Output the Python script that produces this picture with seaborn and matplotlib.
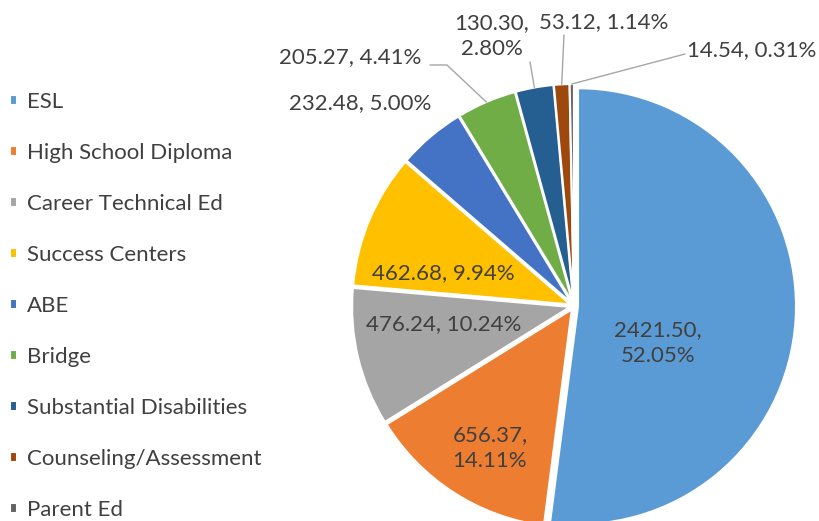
import numpy as np
import matplotlib
matplotlib.use("Agg")
import matplotlib.pyplot as plt
import seaborn as sns

# data
programs = ["ESL", "High School Diploma", "Career Technical Ed", "Success Centers", "ABE",
            "Bridge", "Substantial Disabilities", "Counseling/Assessment", "Parent Ed"]
hours = [2421.50, 656.37, 476.24, 462.68, 232.48, 205.27, 130.30, 53.12, 14.54]
colors = ["#5B9BD5", "#ED7D31", "#A5A5A5", "#FFC000", "#4472C4",
          "#70AD47", "#255E91", "#9E480E", "#636363"]

sns.set_theme(style="white")
plt.rcParams["font.family"] = ["Lato", "DejaVu Sans"]

W, H = 820, 521
fig = plt.figure(figsize=(W / 100, H / 100), dpi=100)
ax = fig.add_axes([0, 0, 1, 1])

cx, cy, r, ex = 574, H - 306, 218, 4
wedges, _ = ax.pie(hours, colors=sns.color_palette(colors), startangle=90, counterclock=False,
                   center=(cx, cy), radius=r, explode=[ex] * len(hours),
                   wedgeprops=dict(edgecolor="white", linewidth=1.5))
ax.set_xlim(0, W)
ax.set_ylim(0, H)
ax.set_aspect("equal")
ax.axis("off")

total = sum(hours)
pct = [v / total * 100 for v in hours]
txt_color = "#404040"

# label placement (pixel coords from top-left), leader line?, two lines?
label_pos = {
    "ESL": (658, 343, False, True),
    "High School Diploma": (490, 448, False, True),
    "Career Technical Ed": (444, 324, False, False),
    "Success Centers": (443, 273, False, False),
    "ABE": (360, 103, False, False),
    "Bridge": (350, 57, True, False),
    "Substantial Disabilities": (492, 36, True, True),
    "Counseling/Assessment": (604, 22, True, False),
    "Parent Ed": (752, 50, True, False),
}
leader_start = {
    "Bridge": [(430, 65), (447, 65)],
    "Substantial Disabilities": [(530, 62)],
    "Counseling/Assessment": [(564, 35)],
    "Parent Ed": [(685, 54)],
}

for w, name, v, p in zip(wedges, programs, hours, pct):
    x, y, lead, wrap = label_pos[name]
    sep = ",\n" if wrap else ", "
    ax.text(x, H - y, f"{v:.2f}{sep}{p:.2f}%", ha="center", va="center",
            fontsize=16, color=txt_color, linespacing=1.35)
    if lead:
        mid = np.deg2rad((w.theta1 + w.theta2) / 2)
        ax_pt = (cx + (r + ex) * np.cos(mid), cy + (r + ex) * np.sin(mid))
        pts = [(px, H - py) for px, py in leader_start[name]] + [ax_pt]
        xs, ys = zip(*pts)
        ax.plot(xs, ys, color="#A6A6A6", lw=1)

leg = fig.legend(wedges, programs, loc="center left", bbox_to_anchor=(10 / W, 1 - 306 / H),
                 frameon=False, fontsize=16, handlelength=0.32, handleheight=0.32,
                 handletextpad=0.45, labelspacing=1.39, borderpad=0, borderaxespad=0)
for t in leg.get_texts():
    t.set_color(txt_color)

fig.savefig("out.png", dpi=100)
